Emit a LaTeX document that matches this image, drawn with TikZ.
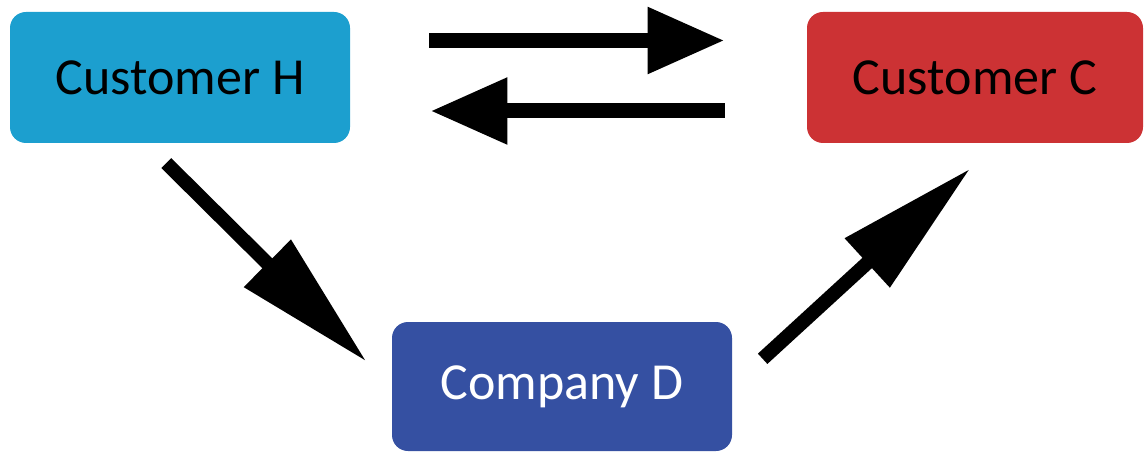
\documentclass[tikz,border=0pt]{standalone}
\usepackage{fontspec}
\setmainfont{Carlito}
\usetikzlibrary{arrows.meta}
\definecolor{custblue}{HTML}{1C9FCF}
\definecolor{custred}{HTML}{CC3234}
\definecolor{compblue}{HTML}{3550A2}
\tikzset{
  party/.style={rounded corners=8pt, minimum width=170pt, minimum height=65.5pt, inner sep=0pt, text=black, font=\fontsize{26}{30}\selectfont},
  flow/.style={-{Triangle[length=38.5pt, width=31.5pt]}, line width=7.5pt},
  longflow/.style={-{Triangle[length=70pt, width=31.5pt]}, line width=7pt}
}

\begin{document}
\begin{tikzpicture}[x=0.5pt, y=-0.5pt]
  \useasboundingbox (0,0) rectangle (1145,454);

  \node[party, fill=custblue] (custH) at (180,77.5) {Customer H};
  \node[party, fill=custred, minimum width=168pt] (custC) at (975,77.5) {Customer C};
  \node[party, fill=compblue, text=white, minimum height=64.5pt] (compD) at (562,386.5) {Company D};

  \draw[flow, shorten <=39.5pt, shorten >=41pt] ([yshift=18.5pt]custH.east) -- ([yshift=18.5pt]custC.west);
  \draw[flow, shorten <=41pt, shorten >=40pt] ([yshift=-16.75pt]custC.west) -- ([yshift=-16.75pt]custH.east);

  \draw[longflow, shorten <=14pt, shorten >=17.5pt] (custH.-117) -- (compD.west);
  \draw[longflow, shorten <=20.5pt, shorten >=18.5pt] (compD.east) -- (custC.-71);
\end{tikzpicture}
\end{document}
